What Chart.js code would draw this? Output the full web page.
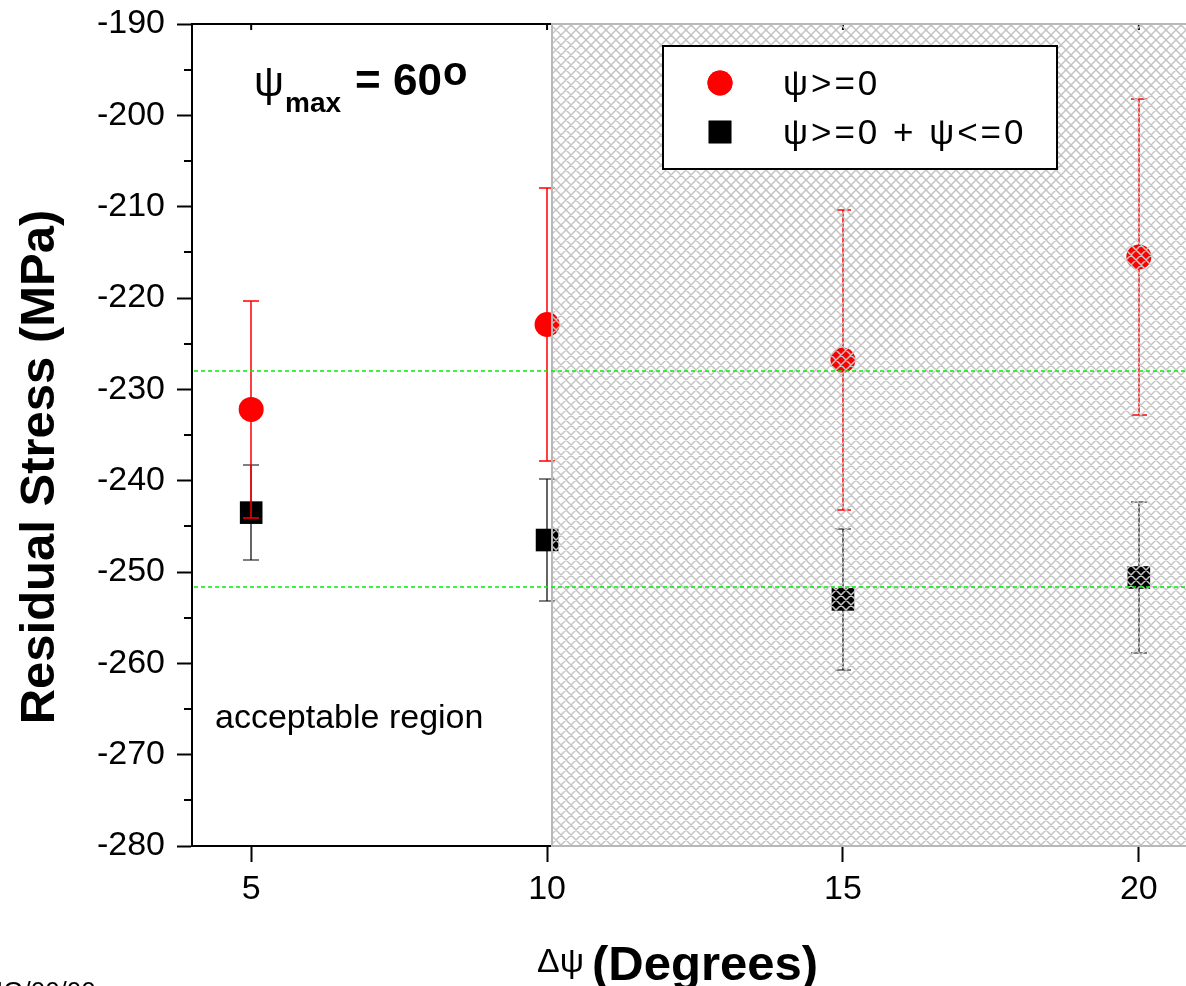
<!DOCTYPE html>
<html>
<head>
<meta charset="utf-8">
<title>Residual Stress vs Δψ</title>
<script src="https://cdn.jsdelivr.net/npm/chart.js@4.4.1/dist/chart.umd.min.js"></script>
<style>
  html, body { margin: 0; padding: 0; background: #fff; overflow: hidden; }
  #wrap { position: relative; width: 1214px; height: 986px; }
</style>
</head>
<body>
<div id="wrap"><canvas id="chart_stress"></canvas></div>
<script>
  // ---------- Data ----------
  const deltaPsi = [5, 10, 15, 20];
  const stressPos = [-232.2, -222.9, -226.8, -215.5];   // ψ>=0
  const errPos = [11.9, 14.9, 16.4, 17.3];
  const stressBoth = [-243.5, -246.5, -253.0, -250.6];  // ψ>=0 + ψ<=0
  const errBoth = [5.2, 6.7, 7.7, 8.3];
  const refLines = [-228.0, -251.6];
  const xTicks = [5, 10, 15, 20];
  const yTicks = [-280, -270, -260, -250, -240, -230, -220, -210, -200, -190];
  const yMinorTicks = [-275, -265, -255, -245, -235, -225, -215, -205, -195];
  const shadedFrom = 10.08; // start of the hatched (non acceptable) band

  const FONT = '"Liberation Sans", Arial, sans-serif';

  // ---------- Helpers ----------
  function toPoints(xs, ys) {
    return xs.map((x, i) => ({ x, y: ys[i] }));
  }

  function drawErrorBars(chart, ds) {
    const ctx = chart.ctx;
    const sx = chart.scales.x, sy = chart.scales.y;
    ctx.save();
    ctx.strokeStyle = ds.errorColor;
    ctx.lineWidth = ds.errorWidth;
    ds.data.forEach((p, i) => {
      const px = Math.round(sx.getPixelForValue(p.x));
      const top = Math.round(sy.getPixelForValue(p.y + ds.errors[i]));
      const bot = Math.round(sy.getPixelForValue(p.y - ds.errors[i]));
      ctx.beginPath();
      ctx.moveTo(px, top); ctx.lineTo(px, bot);
      ctx.moveTo(px - 8, top); ctx.lineTo(px + 8, top);
      ctx.moveTo(px - 8, bot); ctx.lineTo(px + 8, bot);
      ctx.stroke();
    });
    ctx.restore();
  }

  function drawHatch(ctx, left, top, right, bottom) {
    const h = bottom - top, step = 10;
    ctx.save();
    ctx.beginPath();
    ctx.rect(left, top, right - left, h);
    ctx.clip();
    ctx.strokeStyle = '#c4c4c4';
    ctx.lineWidth = 1.5;
    ctx.beginPath();
    for (let c = left - h - step; c < right + h; c += step) {
      ctx.moveTo(c, top); ctx.lineTo(c + h, bottom);
      ctx.moveTo(c + h, top); ctx.lineTo(c, bottom);
    }
    ctx.stroke();
    ctx.restore();
    ctx.save();
    ctx.strokeStyle = '#b8b8b8';
    ctx.lineWidth = 2;
    ctx.strokeRect(left, top, right - left, h);
    ctx.restore();
  }

  function drawLegend(chart) {
    const ctx = chart.ctx;
    ctx.save();
    ctx.fillStyle = '#fff';
    ctx.fillRect(663, 46, 394, 123);
    ctx.strokeStyle = '#000';
    ctx.lineWidth = 2;
    ctx.strokeRect(663, 46, 394, 123);
    const rows = [83, 132];
    chart.data.datasets.forEach((ds, i) => {
      ctx.fillStyle = ds.backgroundColor;
      Chart.helpers.drawPoint(ctx, {
        pointStyle: ds.pointStyle, radius: ds.pointRadius, borderWidth: 0, rotation: 0
      }, 720, rows[i]);
      ctx.fill();
      ctx.fillStyle = '#000';
      ctx.font = '35px ' + FONT;
      ctx.letterSpacing = '3px';
      ctx.textBaseline = 'alphabetic';
      ctx.fillText(ds.label, 783, rows[i] + 12);
    });
    ctx.restore();
  }

  function drawTexts(chart) {
    const ctx = chart.ctx;
    ctx.save();
    ctx.fillStyle = '#000';
    ctx.textBaseline = 'alphabetic';

    // ψmax = 60°
    ctx.font = '42px ' + FONT;
    ctx.fillText('ψ', 254, 96);
    ctx.font = 'bold 28px ' + FONT;
    ctx.fillText('max', 285, 112);
    ctx.font = 'bold 44px ' + FONT;
    ctx.fillText('= 60', 355, 95);
    ctx.font = 'bold 40px ' + FONT;
    ctx.fillText('o', 443, 85);

    ctx.font = '34px ' + FONT;
    ctx.fillText('acceptable region', 215, 728);

    // axis titles
    ctx.font = '34px ' + FONT;
    ctx.fillText('Δψ', 537, 972);
    ctx.font = 'bold 49px ' + FONT;
    ctx.fillText('(Degrees)', 592, 980);

    ctx.save();
    ctx.translate(54, 467);
    ctx.rotate(-Math.PI / 2);
    ctx.textAlign = 'center';
    ctx.font = 'bold 49px ' + FONT;
    ctx.fillText('Residual Stress (MPa)', 0, 0);
    ctx.restore();

    ctx.font = '26px ' + FONT;
    ctx.fillText('IG/00/00', -4, 1000);
    ctx.restore();
  }

  // ---------- Plugin ----------
  const overlayPlugin = {
    id: 'overlay',
    beforeDatasetDraw(chart, args) {
      const ds = chart.data.datasets[args.index];
      if (ds.errors) drawErrorBars(chart, ds);
    },
    afterDatasetsDraw(chart) {
      const ctx = chart.ctx;
      const area = chart.chartArea;
      const sx = chart.scales.x, sy = chart.scales.y;

      // top frame + inward ticks
      ctx.save();
      ctx.strokeStyle = '#000';
      ctx.lineWidth = 2;
      ctx.beginPath();
      ctx.moveTo(area.left - 1, area.top);
      ctx.lineTo(chart.width, area.top);
      xTicks.forEach(v => {
        const px = sx.getPixelForValue(v);
        ctx.moveTo(px, area.top);
        ctx.lineTo(px, area.top + 6);
      });
      // minor ticks on the left axis
      yMinorTicks.forEach(v => {
        const py = Math.round(sy.getPixelForValue(v));
        ctx.moveTo(area.left - 8, py);
        ctx.lineTo(area.left, py);
      });
      ctx.stroke();
      ctx.restore();

      drawHatch(ctx, Math.round(sx.getPixelForValue(shadedFrom)), area.top, chart.width + 10, area.bottom);

      // reference levels
      ctx.save();
      ctx.strokeStyle = '#00ee00';
      ctx.lineWidth = 1.5;
      ctx.setLineDash([4, 3]);
      refLines.forEach(v => {
        const py = Math.round(sy.getPixelForValue(v));
        ctx.beginPath();
        ctx.moveTo(area.left + 2, py);
        ctx.lineTo(chart.width, py);
        ctx.stroke();
      });
      ctx.restore();

      drawLegend(chart);
      drawTexts(chart);
    }
  };

  // ---------- Chart ----------
  const canvas = document.getElementById('chart_stress');
  new Chart(canvas, {
    type: 'scatter',
    data: {
      datasets: [
        {
          label: 'ψ>=0',
          data: toPoints(deltaPsi, stressPos),
          errors: errPos,
          errorColor: '#ff0000',
          errorWidth: 1.5,
          pointStyle: 'circle',
          pointRadius: 12.5,
          backgroundColor: '#ff0000',
          borderWidth: 0,
        },
        {
          label: 'ψ>=0 + ψ<=0',
          data: toPoints(deltaPsi, stressBoth),
          errors: errBoth,
          errorColor: '#000000',
          errorWidth: 1.2,
          pointStyle: 'rect',
          pointRadius: 16,
          backgroundColor: '#000000',
          borderWidth: 0,
        },
      ],
    },
    options: {
      responsive: true,
      maintainAspectRatio: false,
      animation: false,
      events: [],
      layout: { padding: { top: 24, right: 0, left: 0, bottom: 0 } },
      plugins: { legend: { display: false }, tooltip: { enabled: false } },
      scales: {
        x: {
          type: 'linear',
          min: 4,
          max: 21,
          afterBuildTicks: (s) => { s.ticks = xTicks.map(v => ({ value: v })); },
          afterFit: (s) => { s.height = 140; },
          grid: { display: true, drawOnChartArea: false, drawTicks: true, tickLength: 16, tickWidth: 2, tickColor: '#000' },
          border: { display: true, color: '#000', width: 2 },
          ticks: { color: '#000', font: { family: FONT, size: 34 }, padding: 7, maxRotation: 0, autoSkip: false,
                   callback: (v) => String(v) },
        },
        y: {
          type: 'linear',
          min: -280,
          max: -190,
          afterBuildTicks: (s) => { s.ticks = yTicks.map(v => ({ value: v })); },
          afterFit: (s) => { s.width = 192; },
          grid: { display: true, drawOnChartArea: false, drawTicks: true, tickLength: 15, tickWidth: 2, tickColor: '#000' },
          border: { display: true, color: '#000', width: 2 },
          // small lineHeight keeps the label overflow from pushing the plot top down
          ticks: { color: '#000', font: { family: FONT, size: 34, lineHeight: 0.5 }, padding: 12, autoSkip: false,
                   callback: (v) => String(v) },
        },
      },
    },
    plugins: [overlayPlugin],
  });
</script>
</body>
</html>
